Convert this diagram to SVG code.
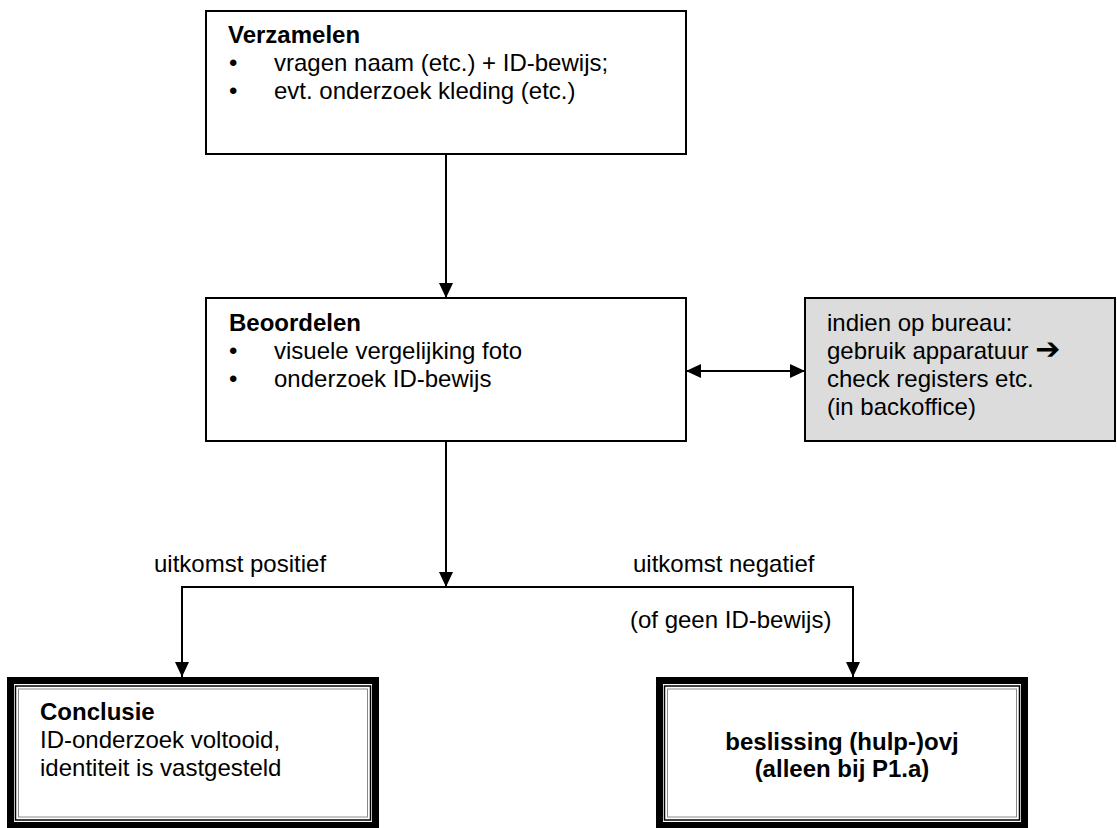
<svg xmlns="http://www.w3.org/2000/svg" width="1117" height="828" viewBox="0 0 1117 828">
<defs>
<style>
text{font-family:"Liberation Sans",Arial,sans-serif;font-size:24px;fill:#000}
.b{font-weight:bold}
.box{fill:#fff;stroke:#000;stroke-width:2}
.grey{fill:#dcdcdc;stroke:#000;stroke-width:2}
.thick{fill:#fff;stroke:#000;stroke-width:7}
.thin{fill:none;stroke:#000;stroke-width:1.5}
.thin2{fill:none;stroke:#888;stroke-width:1}
.ln{fill:none;stroke:#000;stroke-width:2}
</style>
<marker id="ah" markerUnits="userSpaceOnUse" markerWidth="16" markerHeight="14" refX="15" refY="7" orient="auto-start-reverse">
<path d="M0,0 L15,7 L0,14 Z" fill="#000"/>
</marker>
</defs>
<g id="verzamelen">
<rect class="box" x="206" y="11" width="480" height="143"/>
<text class="b" x="228" y="43">Verzamelen</text>
<text x="229" y="71">•</text><text x="274" y="71">vragen naam (etc.) + ID-bewijs;</text>
<text x="229" y="99">•</text><text x="274" y="99">evt. onderzoek kleding (etc.)</text>
</g>
<g id="beoordelen">
<rect class="box" x="206" y="298" width="480" height="143"/>
<text class="b" x="229" y="331">Beoordelen</text>
<text x="229" y="359">•</text><text x="274" y="359">visuele vergelijking foto</text>
<text x="229" y="387">•</text><text x="274" y="387">onderzoek ID-bewijs</text>
</g>
<g id="backoffice">
<rect class="grey" x="805" y="298" width="310" height="143"/>
<text x="827" y="331">indien op bureau:</text>
<text x="827" y="359">gebruik apparatuur <tspan font-family="DejaVu Sans" font-weight="bold" font-size="30">➔</tspan></text>
<text x="827" y="387">check registers etc.</text>
<text x="827" y="415">(in backoffice)</text>
</g>
<g id="conclusie">
<rect class="thick" x="10.5" y="680.5" width="365" height="145"/>
<rect class="thin" x="15.5" y="686" width="355" height="134"/>
<rect class="thin2" x="18.5" y="689" width="349" height="128"/>
<text class="b" x="40" y="720">Conclusie</text>
<text x="40" y="748">ID-onderzoek voltooid,</text>
<text x="40" y="776">identiteit is vastgesteld</text>
</g>
<g id="beslissing">
<rect class="thick" x="659.5" y="680.5" width="365" height="145"/>
<rect class="thin" x="664.5" y="686" width="355" height="134"/>
<rect class="thin2" x="667.5" y="689" width="349" height="128"/>
<text class="b" x="842" y="750" text-anchor="middle">beslissing (hulp-)ovj</text>
<text class="b" x="842" y="777" text-anchor="middle">(alleen bij P1.a)</text>
</g>
<g id="connectors">
<path class="ln" d="M446,154 V298" marker-end="url(#ah)"/>
<path class="ln" d="M686,371 H805" marker-start="url(#ah)" marker-end="url(#ah)"/>
<path class="ln" d="M446,441 V587" marker-end="url(#ah)"/>
<path class="ln" d="M182,677 V587 H853 V677" marker-start="url(#ah)" marker-end="url(#ah)"/>
<text x="154" y="572">uitkomst positief</text>
<text x="633" y="572">uitkomst negatief</text>
<text x="630" y="628">(of geen ID-bewijs)</text>
</g>
</svg>
